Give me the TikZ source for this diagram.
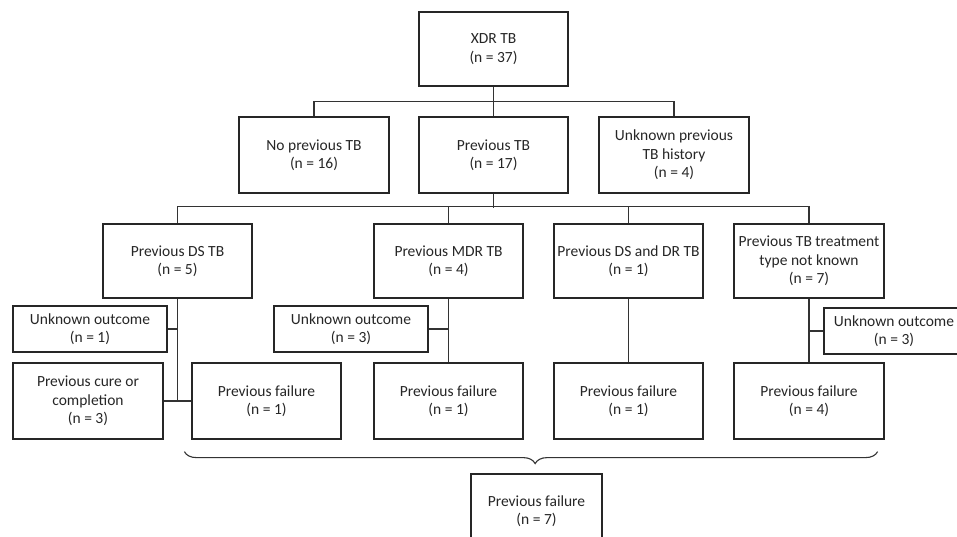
\documentclass[tikz,border=0pt]{standalone}
\usepackage{fontspec}
\setmainfont{Carlito}
\usetikzlibrary{decorations.pathreplacing}
\begin{document}
\begin{tikzpicture}[x=1pt,y=-1pt,
  line width=1.2pt, draw=black!85,
  box/.style={draw=black!85, line width=1.2pt, align=center, inner sep=0pt,
    font=\fontsize{15.5}{18.5}\selectfont, text=black!85},
  conn/.style={draw=black!80, line width=1.1pt}]
\clip (0,0) rectangle (957,536);
\fill[white] (0,0) rectangle (957,536);
% level 1
\node[box, minimum width=149, minimum height=74] (xdr) at (493.5,49) {XDR TB\\(n = 37)};
% level 2
\node[box, minimum width=150, minimum height=76] (nop) at (314,155) {No previous TB\\(n = 16)};
\node[box, minimum width=149, minimum height=76] (prev) at (493.5,155) {Previous TB\\(n = 17)};
\node[box, minimum width=150, minimum height=76] (unk) at (674,155) {Unknown previous\\TB history\\(n = 4)};
% level 3
\node[box, minimum width=149, minimum height=74] (ds) at (177.5,261) {Previous DS TB\\(n = 5)};
\node[box, minimum width=149, minimum height=74] (mdr) at (448.5,261) {Previous MDR TB\\(n = 4)};
\node[box, minimum width=149, minimum height=74] (dsdr) at (628.5,261) {Previous DS and DR TB\\(n = 1)};
\node[box, minimum width=150, minimum height=74] (tnk) at (809,261) {Previous TB treatment\\type not known\\(n = 7)};
% unknown outcomes
\node[box, minimum width=154, minimum height=46] (uo1) at (90,329) {Unknown outcome\\(n = 1)};
\node[box, minimum width=154, minimum height=46] (uo2) at (351,329) {Unknown outcome\\(n = 3)};
\node[box, minimum width=140, minimum height=46] (uo3) at (894,331) {Unknown outcome\\(n = 3)};
% level 4
\node[box, minimum width=150, minimum height=76] (cure) at (88,401) {Previous cure or\\completion\\(n = 3)};
\node[box, minimum width=149, minimum height=76] (f1) at (266.5,401) {Previous failure\\(n = 1)};
\node[box, minimum width=149, minimum height=76] (f2) at (448.5,401) {Previous failure\\(n = 1)};
\node[box, minimum width=149, minimum height=76] (f3) at (628.5,401) {Previous failure\\(n = 1)};
\node[box, minimum width=150, minimum height=76] (f4) at (809,401) {Previous failure\\(n = 4)};
% total
\node[box, minimum width=131, minimum height=74] (ftot) at (536.5,511) {Previous failure\\(n = 7)};
% connectors level 1-2
\draw[conn] (xdr.south) -- (prev.north);
\draw[conn] (nop.north) -- ++(0,-15) -| (unk.north);
% connectors level 2-3
\draw[conn] (prev.south) -- ++(0,14);
\draw[conn] (ds.north) -- ++(0,-17) -| (tnk.north);
\draw[conn] (mdr.north) -- ++(0,-17);
\draw[conn] (dsdr.north) -- ++(0,-17);
% DS branch
\draw[conn] (ds.south) -- (ds.south |- cure.east);
\draw[conn] (cure.east) -- (f1.west);
\draw[conn] (uo1.east) -- (uo1.east -| ds.south);
% MDR branch
\draw[conn] (mdr.south) -- (f2.north);
\draw[conn] (uo2.east) -- (uo2.east -| mdr.south);
% DS and DR branch
\draw[conn] (dsdr.south) -- (f3.north);
% type not known branch
\draw[conn] (tnk.south) -- (f4.north);
\draw[conn] (uo3.west) -- (uo3.west -| tnk.south);
% brace
\coordinate (bl) at ([xshift=-7pt,yshift=-12pt]f1.south west);
\coordinate (br) at ([xshift=-7pt,yshift=-12pt]f4.south east);
\draw[conn, decorate, decoration={brace, amplitude=12pt, aspect=0.494}] (br) -- (bl);
\end{tikzpicture}
\end{document}
